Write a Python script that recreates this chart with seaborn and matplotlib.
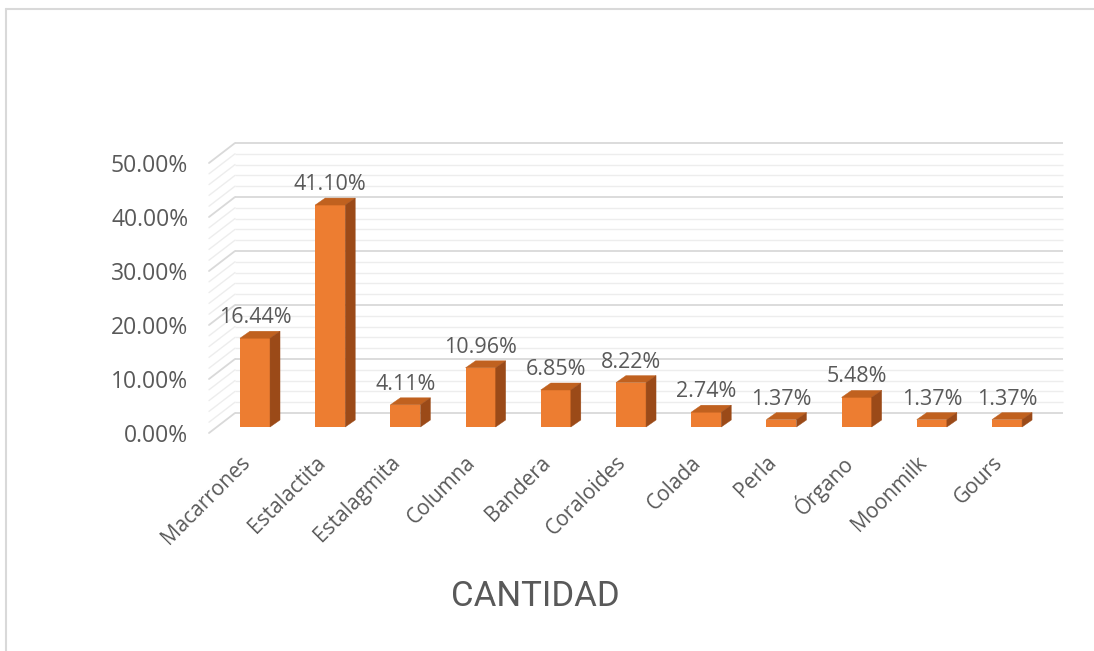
import matplotlib
matplotlib.use("Agg")
import matplotlib.pyplot as plt
import matplotlib.transforms as mtransforms
from matplotlib.patches import Polygon
from matplotlib.lines import Line2D
import seaborn as sns
import pandas as pd
import numpy as np

# ---------------- data ----------------
categories = ["Macarrones", "Estalactita", "Estalagmita", "Columna", "Bandera",
              "Coraloides", "Colada", "Perla", "Órgano", "Moonmilk", "Gours"]
values = [16.44, 41.10, 4.11, 10.96, 6.85, 8.22, 2.74, 1.37, 5.48, 1.37, 1.37]
y_major = [0, 10, 20, 30, 40, 50]
y_minor = [2, 4, 6, 8, 12, 14, 16, 18, 22, 24, 26, 28, 32, 34, 36, 38, 42, 44, 46, 48]
y_labels = ["0.00%", "10.00%", "20.00%", "30.00%", "40.00%", "50.00%"]
title = "CANTIDAD"

# ---------------- style ----------------
W, H, DPI = 1094, 651, 100
TXT = "#595959"
FRONT = "#ED7D31"
TOP = "#C0611F"
SIDE = "#9B4A18"
GRID_MAJ = "#D9D9D9"
GRID_MIN = "#EDEDED"
WALL = (26, 20)      # px depth of the 3-D box
BAR_OFF = (8, 6)     # px offset of bar front face from front plane
BAR_DEPTH = (10, 7)  # px depth of each bar

sns.set_theme(style="white")
plt.rcParams["font.family"] = ["Open Sans", "DejaVu Sans"]

fig = plt.figure(figsize=(W / DPI, H / DPI), dpi=DPI)
ax = fig.add_axes([209 / W, (H - 433) / H, 828 / W, 270 / H])

df = pd.DataFrame({"cat": categories, "val": values})
sns.barplot(data=df, x="cat", y="val", color=FRONT, saturation=1, width=0.4,
            ax=ax, zorder=5, linewidth=0)
ax.set_xlim(-0.505, len(categories) - 1 + 0.505)
ax.set_ylim(0, 50)
ax.set_xlabel("")
ax.set_ylabel("")
for s in ax.spines.values():
    s.set_visible(False)
ax.grid(False)
ax.patch.set_alpha(0)


def off(dx, dy):
    return ax.transData + mtransforms.ScaledTranslation(dx / DPI, dy / DPI, fig.dpi_scale_trans)


inv = ax.transData.inverted()
x_left, x_right = ax.get_xlim()

# back wall gridlines + left wall diagonals
for v, col, lw, z in [(v, GRID_MIN, 1.0, 0.5) for v in y_minor] + [(v, GRID_MAJ, 1.3, 1) for v in y_major]:
    ax.plot([x_left, x_right], [v, v], transform=off(*WALL), color=col, lw=lw,
            clip_on=False, zorder=z, solid_capstyle="butt")
    p0 = ax.transData.transform((x_left, v))
    p1 = inv.transform(p0 + np.array(WALL))
    ax.plot([x_left, p1[0]], [v, p1[1]], color=col, lw=lw, clip_on=False, zorder=z)

# 3-D bars
tb = off(*BAR_OFF)
d = np.array(BAR_DEPTH)
for p in list(ax.patches):
    p.set_transform(tb)
    p.set_clip_on(False)
    x0, w, h = p.get_x(), p.get_width(), p.get_height()
    tl = tb.transform((x0, h))
    tr = tb.transform((x0 + w, h))
    br = tb.transform((x0 + w, 0))
    top = inv.transform(np.array([tl, tr, tr + d, tl + d]))
    side = inv.transform(np.array([br, tr, tr + d, br + d]))
    ax.add_patch(Polygon(top, closed=True, facecolor=TOP, edgecolor=TOP, lw=0.3,
                         clip_on=False, zorder=6))
    ax.add_patch(Polygon(side, closed=True, facecolor=SIDE, edgecolor=SIDE, lw=0.3,
                         clip_on=False, zorder=6))

# data labels
for i, v in enumerate(values):
    ax.text(i, v, f"{v:.2f}%", transform=off(BAR_OFF[0], 16), ha="center", va="bottom",
            fontsize=15.5, color=TXT, zorder=7)

# axes ticks
ax.set_yticks(y_major)
ax.set_yticklabels(y_labels)
ax.tick_params(axis="y", length=0, pad=15, labelsize=16.5, labelcolor=TXT)
ax.set_xticks(range(len(categories)))
ax.set_xticklabels(categories, rotation=45, ha="right", va="center", rotation_mode="anchor")
ax.tick_params(axis="x", length=0, pad=19, labelsize=15, labelcolor=TXT)

# title at bottom
fig.text(535 / W, 1 - 597 / H, title, ha="center", va="center", fontsize=25,
         family=["Roboto", "Liberation Sans"], color=TXT)

# chart border
fig.add_artist(Line2D([6 / W, 6 / W], [0, 1 - 9 / H], transform=fig.transFigure,
                      color=GRID_MAJ, lw=1.5))
fig.add_artist(Line2D([6 / W, 1], [1 - 9 / H, 1 - 9 / H], transform=fig.transFigure,
                      color=GRID_MAJ, lw=1.5))

fig.savefig("out.png", dpi=DPI)
